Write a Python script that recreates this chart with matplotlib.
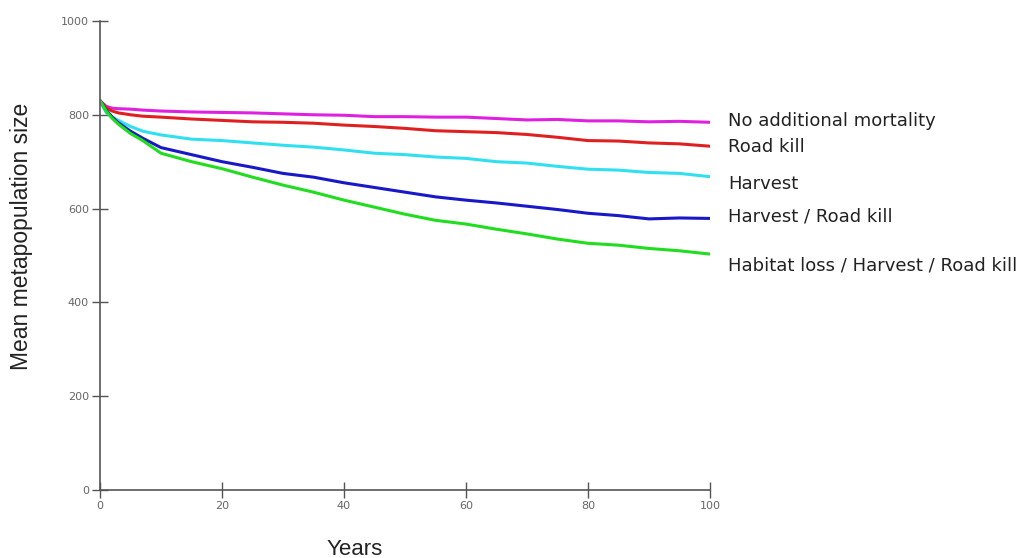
import matplotlib.pyplot as plt

# years sampled along the curves
years = [0, 1, 2, 3, 5, 7, 10, 15, 20, 25, 30, 35, 40, 45, 50,
         55, 60, 65, 70, 75, 80, 85, 90, 95, 100]

no_mortality = [830, 818, 814, 813, 812, 810, 808, 806, 805, 804, 802, 800, 799,
                796, 796, 795, 795, 792, 789, 790, 787, 787, 785, 786, 784]
road_kill = [830, 815, 808, 804, 800, 797, 795, 791, 788, 785, 784, 782, 778,
             775, 771, 766, 764, 762, 758, 752, 745, 744, 740, 738, 733]
harvest = [830, 805, 795, 788, 775, 765, 757, 748, 745, 740, 735, 731, 725,
           718, 715, 710, 707, 700, 697, 690, 684, 682, 677, 675, 668]
harvest_road = [830, 810, 795, 783, 765, 750, 730, 715, 700, 688, 675, 667, 655,
                645, 635, 625, 618, 612, 605, 598, 590, 585, 578, 580, 579]
habitat_all = [830, 808, 792, 780, 760, 745, 718, 700, 685, 667, 650, 635, 618,
               603, 588, 575, 567, 556, 546, 535, 526, 522, 515, 510, 503]

series_names = ["No additional mortality", "Road kill", "Harvest",
                "Harvest / Road kill", "Habitat loss / Harvest / Road kill"]
label_y = [787, 731, 652, 584, 478]

x_ticks = [0, 20, 40, 60, 80, 100]
y_ticks = [0, 200, 400, 600, 800, 1000]

colors = ["#e020e0", "#e02020", "#30e0f0", "#1818c8", "#20dd20"]

fig = plt.figure(figsize=(10.25, 5.58), dpi=100)
ax = fig.add_axes([0.0976, 0.1219, 0.595, 0.8405])

all_series = [no_mortality, road_kill, harvest, harvest_road, habitat_all]
for vals, col in zip(all_series, colors):
    ax.plot(years, vals, color=col, linewidth=2.2, solid_capstyle="round")

# labels to the right of the curve ends
for name, yy in zip(series_names, label_y):
    ax.text(103, yy, name, fontsize=13, color="#222222", va="center",
            ha="left", clip_on=False, family="DejaVu Sans")

ax.set_xlim(0, 100)
ax.set_ylim(0, 1000)
ax.set_xticks(x_ticks)
ax.set_yticks(y_ticks)

for s in ["top", "right"]:
    ax.spines[s].set_visible(False)
for s in ["left", "bottom"]:
    ax.spines[s].set_color("#555555")
    ax.spines[s].set_linewidth(1.2)

ax.tick_params(axis="both", direction="inout", length=12, width=1,
               color="#555555", labelsize=8, labelcolor="#666666", pad=2)

ax.set_xlabel("Years", fontsize=16, color="#222222", family="Liberation Sans",
              va="center")
ax.set_ylabel("Mean metapopulation size", fontsize=16.5, color="#222222",
              family="Liberation Sans", va="center")
ax.xaxis.set_label_coords(0.418, -0.127)
ax.yaxis.set_label_coords(-0.128, 0.54)

plt.savefig("out.png", dpi=100)
